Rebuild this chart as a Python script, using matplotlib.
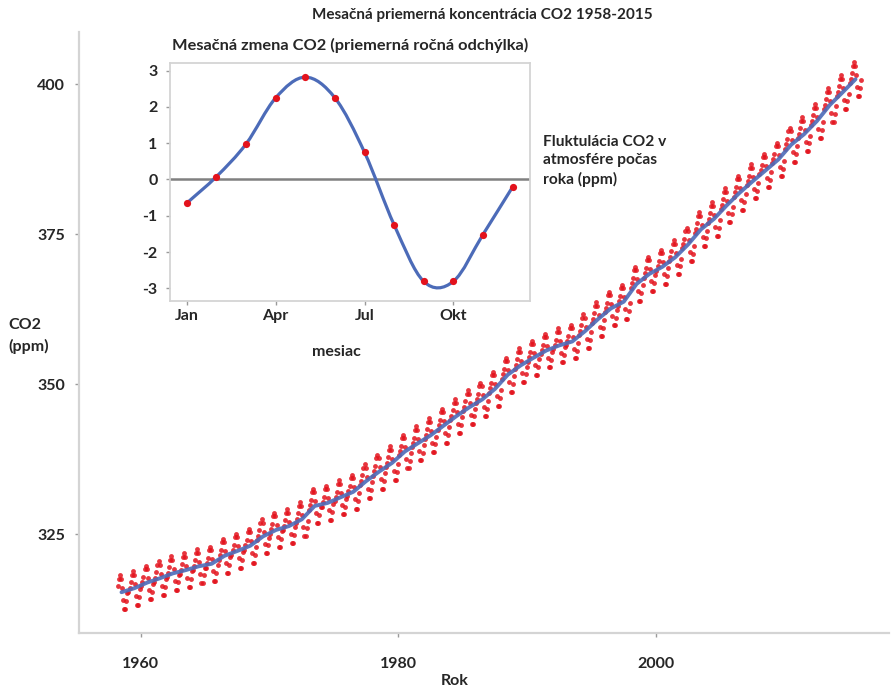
import numpy as np
import matplotlib
matplotlib.use("Agg")
import matplotlib.pyplot as plt
from matplotlib.path import Path
from matplotlib.patches import PathPatch

# Mauna Loa CO2, annual means (ppm); 1958 record starts in March
years = list(range(1958, 2016))
annual_mean = [
    315.30, 315.97, 316.91, 317.64, 318.45, 318.99, 319.62, 320.04, 321.37, 322.18,
    323.05, 324.62, 325.68, 326.32, 327.45, 329.68, 330.18, 331.11, 332.04, 333.83,
    335.40, 336.84, 338.75, 340.11, 341.45, 343.05, 344.65, 346.12, 347.42, 349.19,
    351.57, 353.12, 354.39, 355.61, 356.45, 357.10, 358.83, 360.82, 362.61, 363.73,
    366.70, 368.38, 369.55, 371.14, 373.28, 375.80, 377.52, 379.80, 381.90, 383.79,
    385.60, 387.43, 389.90, 391.65, 393.85, 396.52, 398.65, 400.83,
]

# Mean seasonal deviation per calendar month (ppm)
month_offset = [-0.65, 0.08, 0.98, 2.25, 2.82, 2.25, 0.75, -1.25, -2.81, -2.81, -1.52, -0.21]
month_tick_pos = [0, 3, 6, 9]
month_tick_labels = ["Jan", "Apr", "Jul", "Okt"]

main_xticks = [1960, 1980, 2000]
main_yticks = [325, 350, 375, 400]
inset_yticks = [-3, -2, -1, 0, 1, 2, 3]

plt.rcParams["font.family"] = ["Lato", "DejaVu Sans"]
plt.rcParams["font.weight"] = "bold"
TXT = "#262626"
RED = "#e3121c"
BLUE = "#4c6bb8"
SPINE = "#d4d4d4"
FS = 11.5

W, H = 892, 691
fig = plt.figure(figsize=(W / 100, H / 100), dpi=100)


def fx(px):
    return px / W


def fy(py):
    return 1 - py / H


# ---- main panel: monthly concentrations ----
ax = fig.add_axes([fx(79), fy(633), fx(889) - fx(79), fy(32) - fy(633)])
mx, my = [], []
for yr, mean in zip(years, annual_mean):
    first = 2 if yr == 1958 else 0
    for m in range(first, 12):
        mx.append(yr + (m + 0.5) / 12)
        my.append(mean + month_offset[m])
ax.plot(mx, my, "o", ms=3.5, color=RED, alpha=0.85, mec="none", zorder=2)
ax.plot(np.array(years) + 0.5, annual_mean, color=BLUE, lw=2.8, alpha=0.9,
        solid_capstyle="round", zorder=3)

ax.set_xlim(1955.2, 2018.1)
ax.set_ylim(308.5, 408.7)
ax.set_xticks(main_xticks)
ax.set_yticks(main_yticks)
for s in ["top", "right"]:
    ax.spines[s].set_visible(False)
for s in ["left", "bottom"]:
    ax.spines[s].set_color(SPINE)
    ax.spines[s].set_linewidth(1.6)
ax.tick_params(length=3, width=1, color="#9a9a9a", labelcolor=TXT,
               labelsize=FS)
ax.tick_params(axis="y", pad=7)
ax.tick_params(axis="x", pad=14)
for lab in ax.get_xticklabels() + ax.get_yticklabels():
    lab.set_fontweight("bold")

# ---- inset: mean seasonal cycle ----
ins = fig.add_axes([fx(170), fy(301), fx(530) - fx(170), fy(63) - fy(301)])
months = np.arange(12)
vals = np.array(month_offset)

# smooth curve through the monthly means (Catmull-Rom as cubic Bezier)
verts = [(months[0], vals[0])]
codes = [Path.MOVETO]
n = len(months)
for i in range(n - 1):
    p0 = vals[i - 1] if i > 0 else vals[i]
    p3 = vals[i + 2] if i + 2 < n else vals[i + 1]
    t1 = (vals[i + 1] - p0) / (2 if i > 0 else 1)
    t2 = (p3 - vals[i]) / (2 if i + 2 < n else 1)
    verts += [(months[i] + 1 / 3, vals[i] + t1 / 3),
              (months[i + 1] - 1 / 3, vals[i + 1] - t2 / 3),
              (months[i + 1], vals[i + 1])]
    codes += [Path.CURVE4] * 3
ins.add_patch(PathPatch(Path(verts, codes), fill=False, edgecolor=BLUE,
                        lw=2.3, zorder=3))
ins.axhline(0, color="#808080", lw=1.8, zorder=2)
ins.plot(months, vals, "o", ms=5.2, color=RED, mec="none", zorder=4)

ins.set_xlim(-0.57, 11.59)
ins.set_ylim(-3.35, 3.21)
ins.set_xticks(month_tick_pos)
ins.set_xticklabels(month_tick_labels)
ins.set_yticks(inset_yticks)
ins.set_yticklabels([str(v) for v in inset_yticks])
for s in ins.spines.values():
    s.set_color(SPINE)
    s.set_linewidth(1.3)
ins.tick_params(length=3, width=1, color="#9a9a9a", labelcolor=TXT,
                labelsize=FS)
ins.tick_params(axis="y", pad=6)
ins.tick_params(axis="x", pad=3)
for lab in ins.get_xticklabels() + ins.get_yticklabels():
    lab.set_fontweight("bold")

# ---- titles and labels ----
fig.text(fx(482), fy(15), "Mesačná priemerná koncentrácia CO2 1958-2015",
         ha="center", va="center", fontsize=11.0, color=TXT, fontweight="bold")
fig.text(fx(172), fy(45), "Mesačná zmena CO2 (priemerná ročná odchýlka)",
         ha="left", va="center", fontsize=11.8, color=TXT, fontweight="bold")
fig.text(fx(543), fy(161), "Fluktulácia CO2 v\natmosfére počas\nroka (ppm)",
         ha="left", va="center", fontsize=11.2, color=TXT, fontweight="bold",
         linespacing=1.35)
fig.text(fx(8), fy(336), "CO2\n(ppm)", ha="left", va="center", fontsize=FS,
         color=TXT, fontweight="bold", linespacing=1.65)
fig.text(fx(336), fy(352), "mesiac", ha="center", va="center", fontsize=FS,
         color=TXT, fontweight="bold")
fig.text(fx(455), fy(681), "Rok", ha="center", va="center", fontsize=FS,
         color=TXT, fontweight="bold")

fig.savefig("out.png", dpi=100)
